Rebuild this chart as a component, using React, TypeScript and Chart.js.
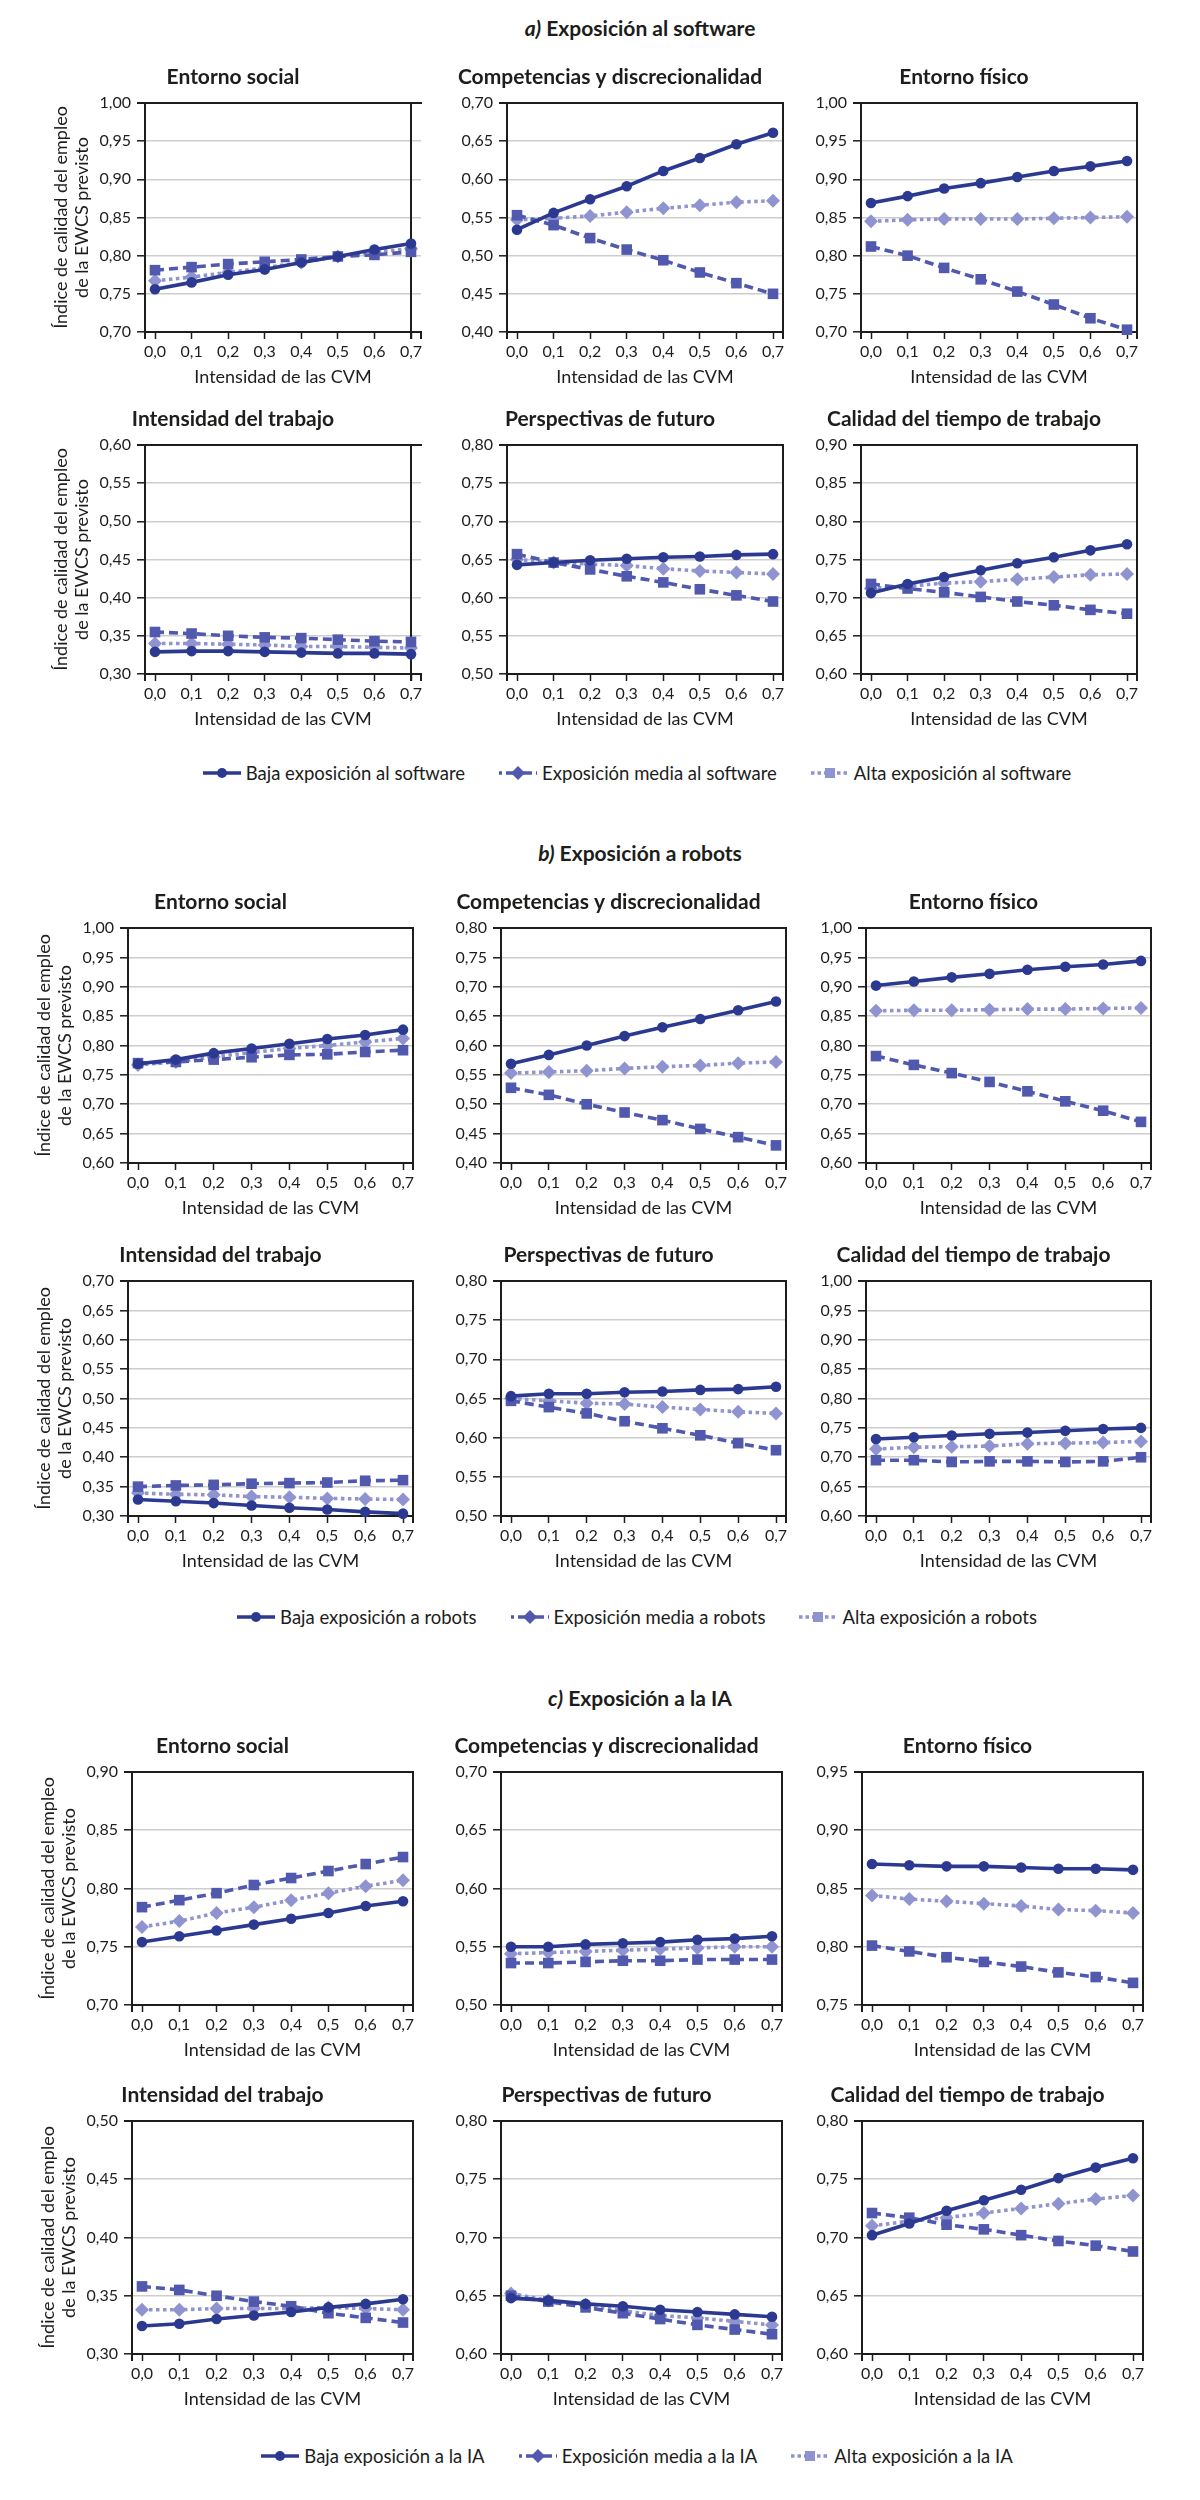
import React, { useEffect, useRef } from 'react';
import { Chart, registerables } from 'chart.js';

Chart.register(...registerables);

const FONT = 'Lato, "Open Sans", sans-serif';
const TEXT = '#1d1d1b';
const DARK = '#2b3990';
const MID = '#5059ad';
const LIGHT = '#8f93cf';
const GRID = '#cdcdcd';

// ---------- data ----------
const xValues = [0, 0.1, 0.2, 0.3, 0.4, 0.5, 0.6, 0.7];
const panelTitles = [
  'Entorno social',
  'Competencias y discrecionalidad',
  'Entorno físico',
  'Intensidad del trabajo',
  'Perspectivas de futuro',
  'Calidad del tiempo de trabajo',
];
const yAxisTitle = ['Índice de calidad del empleo', 'de la EWCS previsto'];
const xAxisTitle = 'Intensidad de las CVM';

// a) software
const softwareLow = [
  [0.756, 0.765, 0.775, 0.782, 0.791, 0.799, 0.808, 0.816],
  [0.534, 0.556, 0.574, 0.591, 0.611, 0.628, 0.646, 0.661],
  [0.869, 0.878, 0.888, 0.895, 0.903, 0.911, 0.917, 0.924],
  [0.329, 0.330, 0.330, 0.329, 0.328, 0.327, 0.327, 0.326],
  [0.643, 0.646, 0.649, 0.651, 0.653, 0.654, 0.656, 0.657],
  [0.706, 0.718, 0.727, 0.736, 0.745, 0.753, 0.762, 0.770],
];
const softwareMid = [
  [0.781, 0.785, 0.789, 0.792, 0.795, 0.799, 0.801, 0.805],
  [0.553, 0.540, 0.523, 0.508, 0.494, 0.478, 0.464, 0.450],
  [0.812, 0.800, 0.784, 0.769, 0.753, 0.736, 0.718, 0.703],
  [0.355, 0.353, 0.350, 0.348, 0.347, 0.345, 0.343, 0.342],
  [0.657, 0.646, 0.637, 0.628, 0.620, 0.611, 0.603, 0.595],
  [0.718, 0.712, 0.707, 0.701, 0.695, 0.690, 0.684, 0.679],
];
const softwareHigh = [
  [0.767, 0.772, 0.778, 0.784, 0.791, 0.799, 0.805, 0.809],
  [0.547, 0.549, 0.552, 0.557, 0.562, 0.566, 0.570, 0.572],
  [0.845, 0.847, 0.848, 0.848, 0.848, 0.849, 0.850, 0.851],
  [0.340, 0.340, 0.339, 0.338, 0.336, 0.336, 0.335, 0.334],
  [0.650, 0.646, 0.644, 0.642, 0.638, 0.635, 0.633, 0.631],
  [0.712, 0.715, 0.719, 0.721, 0.724, 0.727, 0.730, 0.731],
];
const softwareRanges = [
  [0.7, 1.0], [0.4, 0.7], [0.7, 1.0],
  [0.3, 0.6], [0.5, 0.8], [0.6, 0.9],
];
const softwareLegend = [
  'Baja exposición al software',
  'Exposición media al software',
  'Alta exposición al software',
];

// b) robots
const robotsLow = [
  [0.769, 0.776, 0.787, 0.795, 0.803, 0.811, 0.818, 0.827],
  [0.569, 0.584, 0.600, 0.616, 0.631, 0.645, 0.660, 0.675],
  [0.902, 0.909, 0.916, 0.922, 0.929, 0.934, 0.938, 0.944],
  [0.328, 0.325, 0.322, 0.318, 0.314, 0.311, 0.307, 0.304],
  [0.653, 0.656, 0.656, 0.658, 0.659, 0.661, 0.662, 0.665],
  [0.731, 0.734, 0.737, 0.740, 0.742, 0.745, 0.748, 0.750],
];
const robotsMid = [
  [0.770, 0.772, 0.776, 0.780, 0.784, 0.785, 0.789, 0.792],
  [0.528, 0.516, 0.500, 0.486, 0.473, 0.458, 0.444, 0.430],
  [0.782, 0.767, 0.753, 0.738, 0.722, 0.705, 0.689, 0.670],
  [0.350, 0.352, 0.353, 0.355, 0.356, 0.357, 0.360, 0.361],
  [0.647, 0.639, 0.631, 0.621, 0.612, 0.603, 0.593, 0.584],
  [0.695, 0.695, 0.692, 0.693, 0.693, 0.692, 0.693, 0.700],
];
const robotsHigh = [
  [0.767, 0.772, 0.781, 0.788, 0.795, 0.800, 0.806, 0.812],
  [0.553, 0.555, 0.557, 0.561, 0.564, 0.566, 0.570, 0.572],
  [0.859, 0.860, 0.860, 0.861, 0.862, 0.862, 0.863, 0.864],
  [0.339, 0.337, 0.336, 0.333, 0.332, 0.330, 0.329, 0.328],
  [0.650, 0.647, 0.644, 0.643, 0.639, 0.636, 0.633, 0.631],
  [0.714, 0.717, 0.718, 0.719, 0.723, 0.724, 0.725, 0.727],
];
const robotsRanges = [
  [0.6, 1.0], [0.4, 0.8], [0.6, 1.0],
  [0.3, 0.7], [0.5, 0.8], [0.6, 1.0],
];
const robotsLegend = [
  'Baja exposición a robots',
  'Exposición media a robots',
  'Alta exposición a robots',
];

// c) IA
const aiLow = [
  [0.754, 0.759, 0.764, 0.769, 0.774, 0.779, 0.785, 0.789],
  [0.550, 0.550, 0.552, 0.553, 0.554, 0.556, 0.557, 0.559],
  [0.871, 0.870, 0.869, 0.869, 0.868, 0.867, 0.867, 0.866],
  [0.324, 0.326, 0.330, 0.333, 0.336, 0.340, 0.343, 0.347],
  [0.648, 0.646, 0.643, 0.641, 0.638, 0.636, 0.634, 0.632],
  [0.702, 0.712, 0.723, 0.732, 0.741, 0.751, 0.760, 0.768],
];
const aiMid = [
  [0.784, 0.790, 0.796, 0.803, 0.809, 0.815, 0.821, 0.827],
  [0.536, 0.536, 0.537, 0.538, 0.538, 0.539, 0.539, 0.539],
  [0.801, 0.796, 0.791, 0.787, 0.783, 0.778, 0.774, 0.769],
  [0.358, 0.355, 0.350, 0.345, 0.341, 0.335, 0.331, 0.327],
  [0.650, 0.645, 0.640, 0.635, 0.630, 0.625, 0.621, 0.617],
  [0.721, 0.717, 0.711, 0.707, 0.702, 0.697, 0.693, 0.688],
];
const aiHigh = [
  [0.767, 0.772, 0.779, 0.784, 0.790, 0.796, 0.802, 0.807],
  [0.544, 0.545, 0.546, 0.547, 0.548, 0.549, 0.550, 0.550],
  [0.844, 0.841, 0.839, 0.837, 0.835, 0.832, 0.831, 0.829],
  [0.338, 0.338, 0.339, 0.339, 0.339, 0.340, 0.339, 0.338],
  [0.652, 0.646, 0.642, 0.637, 0.633, 0.631, 0.628, 0.625],
  [0.710, 0.714, 0.717, 0.721, 0.725, 0.729, 0.733, 0.736],
];
const aiRanges = [
  [0.7, 0.9], [0.5, 0.7], [0.75, 0.95],
  [0.3, 0.5], [0.6, 0.8], [0.6, 0.8],
];
const aiLegend = [
  'Baja exposición a la IA',
  'Exposición media a la IA',
  'Alta exposición a la IA',
];

// ---------- layout ----------
type SectionLayout = {
  titleY: number;
  rowTops: number[];
  plotH: number;
  lefts: number[];
  plotW: number;
  legendY: number;
  firstRightAtLast: boolean;
};

const sections = [
  {
    letter: 'a)', title: 'Exposición al software',
    low: softwareLow, mid: softwareMid, high: softwareHigh, ranges: softwareRanges, legend: softwareLegend,
    layout: { titleY: 28, rowTops: [103, 445], plotH: 229, lefts: [145, 507, 861], plotW: 276, legendY: 773, firstRightAtLast: true } as SectionLayout,
  },
  {
    letter: 'b)', title: 'Exposición a robots',
    low: robotsLow, mid: robotsMid, high: robotsHigh, ranges: robotsRanges, legend: robotsLegend,
    layout: { titleY: 853, rowTops: [928, 1281], plotH: 235, lefts: [128, 501, 866], plotW: 285, legendY: 1617, firstRightAtLast: false } as SectionLayout,
  },
  {
    letter: 'c)', title: 'Exposición a la IA',
    low: aiLow, mid: aiMid, high: aiHigh, ranges: aiRanges, legend: aiLegend,
    layout: { titleY: 1698, rowTops: [1772, 2121], plotH: 233, lefts: [132, 501, 862], plotW: 281, legendY: 2456, firstRightAtLast: false } as SectionLayout,
  },
];

const TITLE_AREA = 41; // 3 + 24 + 14
const XAXIS_H = 58;
const EDGE_PAD = 10; // px between frame and first / last category

const framePlugin = {
  id: 'frame',
  beforeDatasetsDraw(chart: any, _args: any, opts: any) {
    const { ctx, chartArea } = chart;
    const { left, right, top, bottom } = chartArea;
    const xs = chart.scales.x;
    const rx = opts && opts.rightAtLast ? xs.getPixelForValue(xValues[xValues.length - 1]) : right;
    ctx.save();
    ctx.strokeStyle = TEXT;
    ctx.lineWidth = 2;
    ctx.beginPath();
    ctx.moveTo(left - 8, top);
    ctx.lineTo(right + 1, top);
    ctx.moveTo(left - 1, bottom);
    ctx.lineTo(right + 1, bottom);
    ctx.moveTo(left, top);
    ctx.lineTo(left, bottom + 7);
    ctx.moveTo(rx, top);
    ctx.lineTo(rx, bottom + 7);
    if (rx !== right) {
      ctx.moveTo(right, bottom);
      ctx.lineTo(right, bottom + 7);
    }
    ctx.stroke();
    ctx.restore();
  },
};

type PanelProps = {
  low: number[];
  mid: number[];
  high: number[];
  range: number[];
  title: string;
  labels: string[];
  plotLeft: number;
  plotTop: number;
  plotW: number;
  plotH: number;
  firstCol: boolean;
  rightAtLast: boolean;
};

function Panel(p: PanelProps) {
  const ref = useRef<HTMLCanvasElement | null>(null);
  const side = p.firstCol ? 100 : 70;
  const width = side * 2 + p.plotW;
  const height = TITLE_AREA + p.plotH + XAXIS_H;

  useEffect(() => {
    if (!ref.current) return;
    const perUnit = (p.plotW - 2 * EDGE_PAD) / (xValues[xValues.length - 1] - xValues[0]);
    const xmin = xValues[0] - EDGE_PAD / perUnit;
    const xmax = xValues[xValues.length - 1] + EDGE_PAD / perUnit;
    const pts = (arr: number[]) => xValues.map((x, k) => ({ x, y: arr[k] }));
    const ds = (label: string, arr: number[], color: string, dash: number[], style: string, r: number) => ({
      label,
      data: pts(arr),
      borderColor: color,
      backgroundColor: color,
      borderWidth: 3.6,
      borderDash: dash,
      pointStyle: style,
      pointRadius: r,
      pointBorderWidth: 0,
      pointBackgroundColor: color,
      tension: 0,
      clip: false,
    });
    const chart = new Chart(ref.current, {
      type: 'line',
      data: {
        datasets: [
          ds(p.labels[0], p.low, DARK, [], 'circle', 5.3),
          ds(p.labels[1], p.mid, MID, [9, 5], 'rect', 7.5),
          ds(p.labels[2], p.high, LIGHT, [3.5, 3.5], 'rectRot', 7),
        ],
      },
      options: {
        animation: false,
        responsive: false,
        maintainAspectRatio: false,
        layout: { padding: { left: 0, right: side, top: 0, bottom: 0 } },
        plugins: {
          legend: { display: false },
          tooltip: { enabled: false },
          title: {
            display: true,
            text: p.title,
            color: TEXT,
            font: { family: FONT, size: 21, weight: 'bold', lineHeight: '24px' },
            padding: { top: 3, bottom: 14 },
          },
          frame: { rightAtLast: p.rightAtLast },
        } as any,
        scales: {
          x: {
            type: 'linear',
            min: xmin,
            max: xmax,
            afterBuildTicks: (s: any) => {
              s.ticks = xValues.map((v) => ({ value: v }));
            },
            afterFit: (s: any) => {
              s.height = XAXIS_H;
            },
            ticks: {
              autoSkip: false,
              maxRotation: 0,
              color: TEXT,
              font: { family: FONT, size: 16, lineHeight: 1.2 },
              padding: 3,
              callback: (v: any) => Number(v).toFixed(1).replace('.', ','),
            },
            grid: { display: true, drawOnChartArea: false, drawTicks: true, tickLength: 7, tickColor: TEXT, tickWidth: 1.5 },
            border: { display: false },
            title: {
              display: true,
              text: xAxisTitle,
              color: TEXT,
              font: { family: FONT, size: 18, lineHeight: 1.2 },
              padding: { top: 0, bottom: 2 },
            },
          },
          y: {
            type: 'linear',
            min: p.range[0],
            max: p.range[1],
            afterFit: (s: any) => {
              s.width = side;
            },
            ticks: {
              stepSize: 0.05,
              autoSkip: false,
              color: TEXT,
              font: { family: FONT, size: 16 },
              padding: 6,
              callback: (v: any) => Number(v).toFixed(2).replace('.', ','),
            },
            grid: { color: GRID, lineWidth: 1.6, drawTicks: true, tickLength: 8, tickColor: TEXT, tickWidth: 1.5 },
            border: { display: false },
            title: p.firstCol
              ? {
                  display: true,
                  text: yAxisTitle,
                  color: TEXT,
                  font: { family: FONT, size: 18, lineHeight: '21px' },
                  padding: { top: 5.5, bottom: 0 },
                }
              : { display: false },
          },
        },
      } as any,
      plugins: [framePlugin as any],
    });
    return () => chart.destroy();
  }, []);

  return (
    <canvas
      ref={ref}
      width={width}
      height={height}
      style={{
        position: 'absolute',
        left: p.plotLeft - side,
        top: p.plotTop - TITLE_AREA,
        width,
        height,
      }}
    />
  );
}

function Swatch({ kind }: { kind: number }) {
  if (kind === 0) {
    return (
      <svg width={38} height={14}>
        <line x1={0} y1={7} x2={38} y2={7} stroke={DARK} strokeWidth={3.5} />
        <circle cx={19} cy={7} r={5} fill={DARK} />
      </svg>
    );
  }
  if (kind === 1) {
    return (
      <svg width={38} height={14}>
        <line x1={0} y1={7} x2={38} y2={7} stroke={MID} strokeWidth={3.5} strokeDasharray="3 4 8 0" />
        <polygon points="19,0 26,7 19,14 12,7" fill={MID} />
      </svg>
    );
  }
  return (
    <svg width={38} height={14}>
      <line x1={0} y1={7} x2={38} y2={7} stroke={LIGHT} strokeWidth={3.5} strokeDasharray="3.5 3" />
      <rect x={14} y={2} width={10} height={10} fill={LIGHT} />
    </svg>
  );
}

export default function App() {
  return (
    <div
      style={{
        position: 'absolute',
        left: 0,
        top: 0,
        width: 1200,
        height: 2500,
        background: '#ffffff',
        fontFamily: FONT,
        color: TEXT,
        overflow: 'hidden',
      }}
    >
      {sections.map((sec, si) => (
        <React.Fragment key={si}>
          <div
            style={{
              position: 'absolute',
              left: 0,
              width: 1280,
              top: sec.layout.titleY - 14,
              height: 28,
              lineHeight: '28px',
              textAlign: 'center',
              fontSize: 21,
              fontWeight: 700,
            }}
          >
            <i>{sec.letter}</i> {sec.title}
          </div>
          {panelTitles.map((t, i) => {
            const row = Math.floor(i / 3);
            const col = i % 3;
            return (
              <Panel
                key={i}
                low={sec.low[i]}
                mid={sec.mid[i]}
                high={sec.high[i]}
                range={sec.ranges[i]}
                title={t}
                labels={sec.legend}
                plotLeft={sec.layout.lefts[col]}
                plotTop={sec.layout.rowTops[row]}
                plotW={sec.layout.plotW}
                plotH={sec.layout.plotH}
                firstCol={col === 0}
                rightAtLast={col === 0 && sec.layout.firstRightAtLast}
              />
            );
          })}
          <div
            style={{
              position: 'absolute',
              left: 0,
              width: 1274,
              top: sec.layout.legendY - 13,
              height: 26,
              display: 'flex',
              justifyContent: 'center',
              alignItems: 'center',
              gap: 34,
              fontSize: 18.5,
            }}
          >
            {sec.legend.map((lab, k) => (
              <div key={k} style={{ display: 'flex', alignItems: 'center', gap: 5 }}>
                <Swatch kind={k} />
                <span>{lab}</span>
              </div>
            ))}
          </div>
        </React.Fragment>
      ))}
    </div>
  );
}
